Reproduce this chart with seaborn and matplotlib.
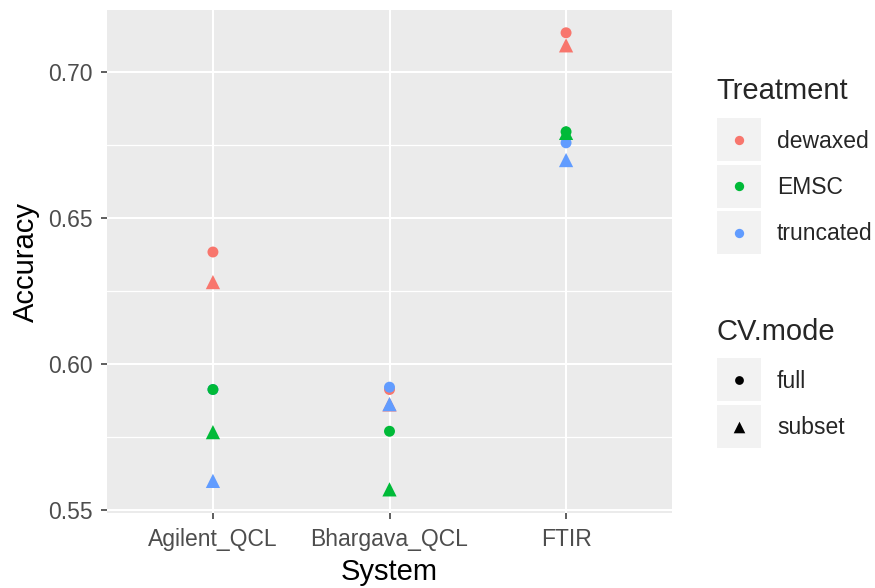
import pandas as pd
import numpy as np
import seaborn as sns
import matplotlib.pyplot as plt
from matplotlib.patches import Rectangle
from matplotlib.ticker import FixedLocator

# DATA
systems = ['Agilent_QCL', 'Bhargava_QCL', 'FTIR']
treatments = ['dewaxed', 'EMSC', 'truncated']
draw_order = ['dewaxed', 'truncated', 'EMSC']
cv_modes = ['full', 'subset']
colors = ['#F8766D', '#00BA38', '#619CFF']

dewaxed_full = [0.6384, 0.5913, 0.7135]
dewaxed_subset = [0.6281, 0.5862, 0.7092]
emsc_full = [0.5913, 0.5770, 0.6796]
emsc_subset = [0.5767, 0.5571, 0.6792]
truncated_full = [0.5913, 0.5921, 0.6758]
truncated_subset = [0.5600, 0.5863, 0.6699]

values = {
    ('dewaxed', 'full'): dewaxed_full,
    ('dewaxed', 'subset'): dewaxed_subset,
    ('EMSC', 'full'): emsc_full,
    ('EMSC', 'subset'): emsc_subset,
    ('truncated', 'full'): truncated_full,
    ('truncated', 'subset'): truncated_subset,
}

rows = []
for t in draw_order:
    for m in cv_modes:
        for s, v in zip(systems, values[(t, m)]):
            rows.append({'System': s, 'Accuracy': v, 'Treatment': t, 'CV.mode': m})
df = pd.DataFrame(rows)

# STYLE
sns.set_theme(style='darkgrid', rc={'axes.facecolor': '#EBEBEB'})
plt.rcParams['font.family'] = ['Liberation Sans', 'DejaVu Sans']

fig = plt.figure(figsize=(8.75, 5.88), dpi=100)
ax = fig.add_axes([107 / 875, 1 - 513 / 588, 565 / 875, 503 / 588])

sns.scatterplot(
    data=df, x='System', y='Accuracy', hue='Treatment', style='CV.mode',
    hue_order=treatments, palette=colors, style_order=cv_modes,
    markers={'full': 'o', 'subset': '^'}, s=65, linewidth=0,
    legend=False, ax=ax)
# ggplot triangles are bigger than matplotlib's at the same area
ax.collections[0].set_sizes(np.where(df['CV.mode'] == 'subset', 105, 62))

ax.set_xlim(-0.6, 2.6)
ax.set_ylim(0.5490, 0.7213)
ax.set_yticks([0.55, 0.60, 0.65, 0.70])
ax.set_yticklabels(['0.55', '0.60', '0.65', '0.70'])
ax.yaxis.set_minor_locator(FixedLocator([0.575, 0.625, 0.675]))
ax.grid(which='major', color='white', lw=1.5)
ax.grid(which='minor', axis='y', color='white', lw=0.9)
for sp in ax.spines.values():
    sp.set_visible(False)
ax.tick_params(which='major', bottom=True, left=True, length=4.5, width=1.1,
               color='#333333', labelcolor='#4D4D4D', labelsize=16.5)
ax.tick_params(axis='x', pad=6.5)
ax.tick_params(axis='y', pad=6)
ax.tick_params(which='minor', length=0)
ax.set_xlabel('System', fontsize=21, color='black', labelpad=5)
ax.set_ylabel('Accuracy', fontsize=21, color='black', labelpad=6)

# LEGEND (ggplot-like, grey key boxes)
lg = fig.add_axes([0, 0, 1, 1])
lg.set_xlim(0, 875)
lg.set_ylim(588, 0)
lg.axis('off')
lg.patch.set_alpha(0)

lg.text(716, 91, 'Treatment', fontsize=21, va='center', ha='left')
key_tops = [118, 164.5, 211]
for top, lab, col in zip(key_tops, treatments, colors):
    lg.add_patch(Rectangle((717, top), 44, 43, facecolor='#F2F2F2', edgecolor='none'))
    lg.scatter([739], [top + 21.5], s=45, color=col, linewidth=0)
    lg.text(777, top + 23, lab, fontsize=16.5, va='center', ha='left')

lg.text(716, 332, 'CV.mode', fontsize=21, va='center', ha='left')
mode_tops = [358, 405]
for top, lab, mk, sz in zip(mode_tops, cv_modes, ['o', '^'], [40, 70]):
    lg.add_patch(Rectangle((717, top), 44, 43, facecolor='#F2F2F2', edgecolor='none'))
    lg.scatter([739], [top + 21.5], s=sz, color='black', marker=mk, linewidth=0)
    lg.text(777, top + 23, lab, fontsize=16.5, va='center', ha='left')

fig.savefig('out.png', dpi=100)
